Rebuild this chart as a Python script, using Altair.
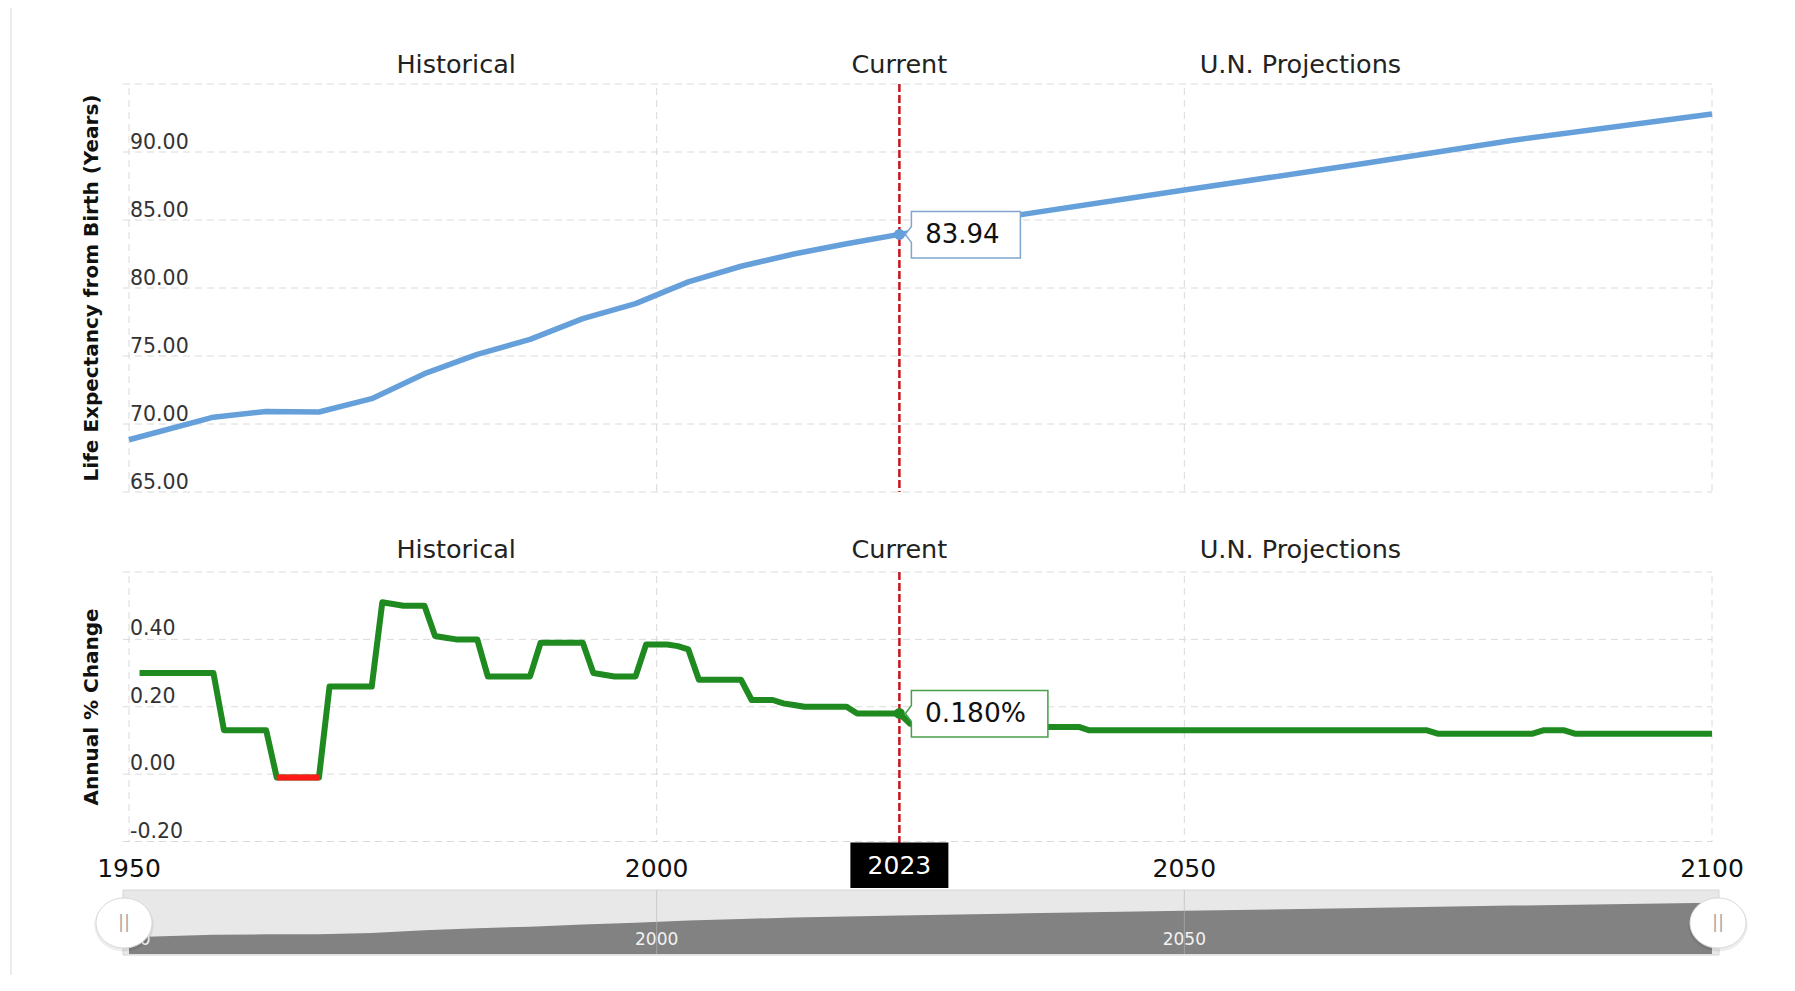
import altair as alt
import pandas as pd

W = 1583
H = 871
FONT = "DejaVu Sans"

# ---------------- data ----------------
le_years = [1950, 1958, 1963, 1968, 1973, 1978, 1983, 1988, 1993, 1998, 2003,
            2008, 2013, 2018, 2023, 2035, 2050, 2067, 2081, 2100]
le_values = [68.84, 70.50, 70.92, 70.88, 71.86, 73.70, 75.12, 76.22, 77.75, 78.85, 80.45,
             81.60, 82.50, 83.25, 83.94, 85.45, 87.20, 89.15, 90.85, 92.80]

chg_years = list(range(1951, 2101))
chg_values = [
    0.30, 0.30, 0.30, 0.30, 0.30, 0.30, 0.30, 0.30,      # 1951-1958
    0.13, 0.13, 0.13, 0.13, 0.13,                        # 1959-1963
    -0.01, -0.01, -0.01, -0.01, -0.01,                   # 1964-1968
    0.26, 0.26, 0.26, 0.26, 0.26,                        # 1969-1973
    0.51, 0.505, 0.50, 0.50, 0.50,                       # 1974-1978
    0.41, 0.405, 0.40, 0.40, 0.40,                       # 1979-1983
    0.29, 0.29, 0.29, 0.29, 0.29,                        # 1984-1988
    0.39, 0.39, 0.39, 0.39, 0.39,                        # 1989-1993
    0.30, 0.295, 0.29, 0.29, 0.29,                       # 1994-1998
    0.385, 0.385, 0.385, 0.38, 0.37,                     # 1999-2003
    0.28, 0.28, 0.28, 0.28, 0.28,                        # 2004-2008
    0.22, 0.22, 0.22, 0.21, 0.205,                       # 2009-2013
    0.20, 0.20, 0.20, 0.20, 0.20,                        # 2014-2018
    0.18, 0.18, 0.18, 0.18, 0.18,                        # 2019-2023
    0.15,                                                # 2024
    0.14, 0.14, 0.14, 0.14, 0.14, 0.14, 0.14, 0.14,      # 2025-2032
    0.14, 0.14, 0.14, 0.14, 0.14, 0.14, 0.14, 0.14,      # 2033-2040
    0.13, 0.13, 0.13, 0.13, 0.13, 0.13, 0.13, 0.13,      # 2041-2048
    0.13, 0.13, 0.13, 0.13, 0.13, 0.13, 0.13, 0.13,      # 2049-2056
    0.13, 0.13, 0.13, 0.13, 0.13, 0.13, 0.13, 0.13,      # 2057-2064
    0.13, 0.13, 0.13, 0.13, 0.13, 0.13, 0.13, 0.13,      # 2065-2072
    0.13,                                                # 2073
    0.12, 0.12, 0.12, 0.12, 0.12, 0.12, 0.12, 0.12, 0.12, 0.12,   # 2074-2083
    0.13, 0.13, 0.13,                                    # 2084-2086
    0.12, 0.12, 0.12, 0.12, 0.12, 0.12, 0.12,            # 2087-2093
    0.12, 0.12, 0.12, 0.12, 0.12, 0.12, 0.12,            # 2094-2100
]
assert len(chg_values) == len(chg_years)

cur_year = 2023
cur_le = 83.94
cur_chg = 0.180

le_grid = [65, 70, 75, 80, 85, 90, 95]
le_tick_values = [65, 70, 75, 80, 85, 90]
le_tick_labels = ["65.00", "70.00", "75.00", "80.00", "85.00", "90.00"]
chg_grid = [-0.2, 0.0, 0.2, 0.4, 0.6]
chg_tick_values = [-0.2, 0.0, 0.2, 0.4]
chg_tick_labels = ["-0.20", "0.00", "0.20", "0.40"]
year_ticks = [1950, 2000, 2050, 2100]
year_tick_labels = ["1950", "2000", "2050", "2100"]
nav_ticks = [1950, 2000, 2050]
nav_tick_labels = ["1950", "2000", "2050"]
section_names = ["Historical", "Current", "U.N. Projections"]
section_years = [1981, 2023, 2061]

# ---------------- scales ----------------
NAV_MIN = 57.2
X_SCALE = alt.Scale(domain=[1950, 2100], nice=False, zero=False)
LE_SCALE = alt.Scale(domain=[65, 95], range=[408, 0], nice=False, zero=False)
CHG_SCALE = alt.Scale(domain=[-0.2, 0.6], range=[757.5, 488], nice=False, zero=False)
NAV_SCALE = alt.Scale(domain=[NAV_MIN, 101.7], range=[870, 806], nice=False, zero=False)

le_df = pd.DataFrame({"year": le_years, "le": le_values})
chg_df = pd.DataFrame({"year": chg_years, "chg": chg_values})
cur_df = pd.DataFrame({
    "year": [cur_year], "le": [cur_le], "chg": [cur_chg],
    "le_txt": [f"{cur_le:.2f}"], "chg_txt": [f"{cur_chg:.3f}%"], "yr_txt": [str(cur_year)],
})
one = pd.DataFrame({"a": [0]})
sec_df = pd.DataFrame({"name": section_names, "year": section_years})
yt_df = pd.DataFrame({"year": year_ticks, "lab": year_tick_labels})
nav_df = pd.DataFrame({"year": nav_ticks, "lab": nav_tick_labels})
vgrid_df = pd.DataFrame({"year": year_ticks})


def X(field="year"):
    return alt.X(f"{field}:Q", scale=X_SCALE, axis=None)


GRID = dict(color="#dadada", strokeWidth=1, strokeDash=[7, 5])
layers = []

# page border
layers.append(alt.Chart(one).mark_rule(color="#e4e4e4", strokeWidth=1.5).encode(
    x=alt.value(-118), y=alt.value(-80), y2=alt.value(910)))

# gridlines
layers.append(alt.Chart(pd.DataFrame({"v": le_grid})).mark_rule(**GRID).encode(
    x=alt.value(-6), x2=alt.value(W), y=alt.Y("v:Q", scale=LE_SCALE, axis=None)))
layers.append(alt.Chart(pd.DataFrame({"v": chg_grid})).mark_rule(**GRID).encode(
    x=alt.value(-6), x2=alt.value(W), y=alt.Y("v:Q", scale=CHG_SCALE, axis=None)))
layers.append(alt.Chart(vgrid_df).mark_rule(**GRID).encode(
    x=X(), y=alt.value(4), y2=alt.value(408)))
layers.append(alt.Chart(vgrid_df).mark_rule(**GRID).encode(
    x=X(), y=alt.value(492), y2=alt.value(757.5)))

# y tick labels (inside the plot, above their gridline)
layers.append(alt.Chart(pd.DataFrame({"v": le_tick_values, "lab": le_tick_labels})).mark_text(
    align="left", baseline="alphabetic", dy=-3.5, fontSize=20.5, font=FONT, color="#333").encode(
    x=alt.value(1), y=alt.Y("v:Q", scale=LE_SCALE, axis=None), text="lab:N"))
layers.append(alt.Chart(pd.DataFrame({"v": chg_tick_values, "lab": chg_tick_labels})).mark_text(
    align="left", baseline="alphabetic", dy=-4, fontSize=20.5, font=FONT, color="#333").encode(
    x=alt.value(1), y=alt.Y("v:Q", scale=CHG_SCALE, axis=None), text="lab:N"))

# axis titles
layers.append(alt.Chart(pd.DataFrame({"t": ["Life Expectancy from Birth (Years)"]})).mark_text(
    angle=270, fontSize=20, fontWeight="bold", font=FONT, color="#111", baseline="middle").encode(
    x=alt.value(-37), y=alt.value(204), text="t:N"))
layers.append(alt.Chart(pd.DataFrame({"t": ["Annual % Change"]})).mark_text(
    angle=270, fontSize=20, fontWeight="bold", font=FONT, color="#111", baseline="middle").encode(
    x=alt.value(-37), y=alt.value(623), text="t:N"))

# section titles
layers.append(alt.Chart(sec_df).mark_text(fontSize=25.5, font=FONT, color="#222", baseline="alphabetic").encode(
    x=X(), y=alt.value(-11), text="name:N"))
layers.append(alt.Chart(sec_df).mark_text(fontSize=25.5, font=FONT, color="#222", baseline="alphabetic").encode(
    x=X(), y=alt.value(473.5), text="name:N"))

# current year dashed line
layers.append(alt.Chart(cur_df).mark_rule(color="#c8141e", strokeWidth=2.5, strokeDash=[8, 3]).encode(
    x=X(), y=alt.value(0), y2=alt.value(408)))
layers.append(alt.Chart(cur_df).mark_rule(color="#c8141e", strokeWidth=2.5, strokeDash=[8, 3]).encode(
    x=X(), y=alt.value(488), y2=alt.value(760)))

# series
layers.append(alt.Chart(le_df).mark_line(color="#66a0da", strokeWidth=5.5, strokeJoin="round").encode(
    x=X(), y=alt.Y("le:Q", scale=LE_SCALE, axis=None)))
layers.append(alt.Chart(chg_df).mark_line(color="#1f8a1f", strokeWidth=6, strokeJoin="round").encode(
    x=X(), y=alt.Y("chg:Q", scale=CHG_SCALE, axis=None)))
layers.append(alt.Chart(chg_df).transform_filter("datum.chg < 0").mark_line(
    color="#ff1a1a", strokeWidth=6).encode(
    x=X(), y=alt.Y("chg:Q", scale=CHG_SCALE, axis=None)))

# current-value markers
layers.append(alt.Chart(cur_df).mark_point(filled=True, size=120, color="#66a0da", opacity=1).encode(
    x=X(), y=alt.Y("le:Q", scale=LE_SCALE, axis=None)))
layers.append(alt.Chart(cur_df).mark_point(filled=True, size=120, color="#1f8a1f", opacity=1).encode(
    x=X(), y=alt.Y("chg:Q", scale=CHG_SCALE, axis=None)))

# callouts
blue_box = "M0,0L0.6,-0.8L0.6,-2.3L11.5,-2.3L11.5,2.35L0.6,2.35L0.6,0.8Z"
green_box = "M0,0L0.6,-0.8L0.6,-2.3L14.25,-2.3L14.25,2.35L0.6,2.35L0.6,0.8Z"
layers.append(alt.Chart(cur_df).mark_point(
    shape=blue_box, size=400, filled=True, fill="white", stroke="#7ea6cf", strokeWidth=1.5,
    opacity=1, xOffset=6).encode(x=X(), y=alt.Y("le:Q", scale=LE_SCALE, axis=None)))
layers.append(alt.Chart(cur_df).mark_text(
    fontSize=26, font=FONT, color="#111", align="center", baseline="middle", dx=63, dy=1).encode(
    x=X(), y=alt.Y("le:Q", scale=LE_SCALE, axis=None), text="le_txt:N"))
layers.append(alt.Chart(cur_df).mark_point(
    shape=green_box, size=400, filled=True, fill="white", stroke="#4a9e4a", strokeWidth=1.5,
    opacity=1, xOffset=6).encode(x=X(), y=alt.Y("chg:Q", scale=CHG_SCALE, axis=None)))
layers.append(alt.Chart(cur_df).mark_text(
    fontSize=26.5, font=FONT, color="#111", align="center", baseline="middle", dx=76, dy=1).encode(
    x=X(), y=alt.Y("chg:Q", scale=CHG_SCALE, axis=None), text="chg_txt:N"))

# x-axis year labels
layers.append(alt.Chart(yt_df).mark_text(fontSize=25, font=FONT, color="#111", baseline="middle").encode(
    x=X(), y=alt.value(785), text="lab:N"))
layers.append(alt.Chart(cur_df).mark_rect(color="black", xOffset=-49, x2Offset=49).encode(
    x=X(), x2="year:Q", y=alt.value(758.5), y2=alt.value(804)))
layers.append(alt.Chart(cur_df).mark_text(fontSize=25, font=FONT, color="white", baseline="middle").encode(
    x=X(), y=alt.value(782), text="yr_txt:N"))

# navigator
layers.append(alt.Chart(one).mark_rect(fill="#e8e8e8", stroke="#d6d6d6", strokeWidth=1).encode(
    x=alt.value(-6), x2=alt.value(1590), y=alt.value(806), y2=alt.value(871)))
layers.append(alt.Chart(le_df).mark_area(color="#828282", opacity=1).encode(
    x=X(), y=alt.Y("le:Q", scale=NAV_SCALE, axis=None), y2=alt.datum(NAV_MIN)))
layers.append(alt.Chart(nav_df[nav_df["year"] > 1950]).mark_rule(color="#b8b8b8", strokeWidth=1, opacity=0.6).encode(
    x=X(), y=alt.value(806), y2=alt.value(870)))
layers.append(alt.Chart(nav_df).mark_text(fontSize=17, font=FONT, color="#f2f2f2", baseline="middle").encode(
    x=X(), y=alt.value(856), text="lab:N"))

handle = "M-1.12,0A1.12,1,0,1,0,1.12,0A1.12,1,0,1,0,-1.12,0Z"
for yr, off in zip([1950, 2100], [-5, 6]):
    d = pd.DataFrame({"year": [yr]})
    layers.append(alt.Chart(d).mark_point(
        shape=handle, size=2800, filled=True, fill="#000000", opacity=0.07, xOffset=off, yOffset=2).encode(
        x=X(), y=alt.value(839)))
    layers.append(alt.Chart(d).mark_point(
        shape=handle, size=2500, filled=True, fill="white", stroke="#d8d8d8", strokeWidth=1,
        opacity=1, xOffset=off).encode(x=X(), y=alt.value(839)))
    layers.append(alt.Chart(d).mark_text(
        text="||", fontSize=18, font=FONT, color="#a8a8a8", baseline="middle", dx=off).encode(
        x=X(), y=alt.value(839)))

chart = alt.layer(*layers).resolve_scale(y="independent").properties(
    width=W, height=H,
    autosize=alt.AutoSizeParams(type="none"),
    padding={"left": 121, "top": 76, "right": 70, "bottom": 20},
).configure_view(stroke=None)

chart.save("out.html", embed_options={"renderer": "svg", "actions": False})
